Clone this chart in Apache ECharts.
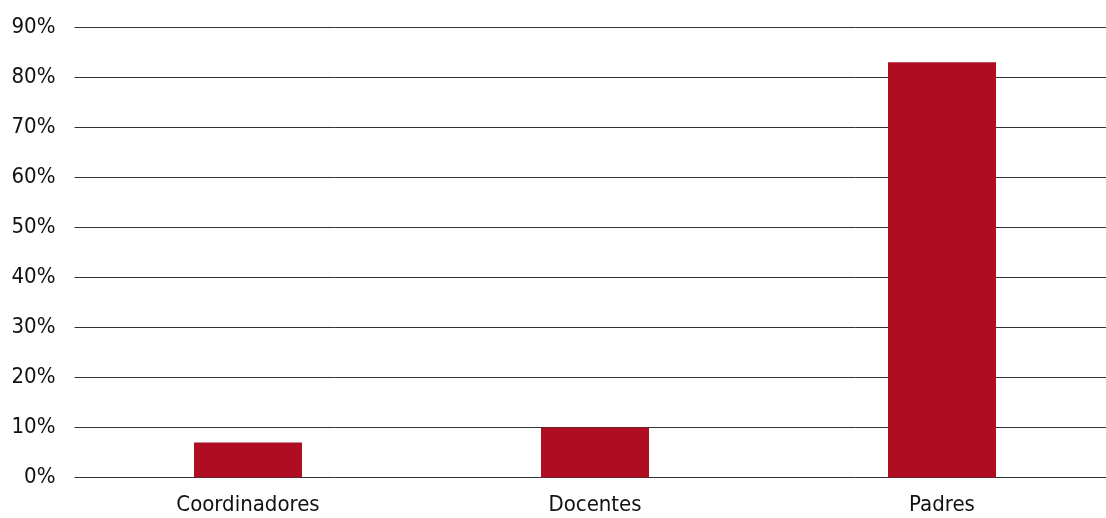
<!DOCTYPE html>
<html><head><meta charset="utf-8">
<script src="https://cdn.jsdelivr.net/npm/echarts@6/dist/echarts.min.js"></script>
<style>html,body{margin:0;padding:0;background:#fff;overflow:hidden;width:1106px;height:518px}#c{width:1116px;height:518px}</style>
</head><body><div id="c"></div>
<script>
const categories = ['Coordinadores', 'Docentes', 'Padres'];
const values = [7, 10, 83];
const yTicks = [0, 10, 20, 30, 40, 50, 60, 70, 80, 90];

const FONT = '"Liberation Sans Narrow", "DejaVu Sans Condensed", sans-serif';
const chart = echarts.init(document.getElementById('c'));
chart.setOption({
  animation: false,
  grid: { left: 74.5, right: 0.5, top: 27.3, bottom: 40.5, containLabel: false, outerBoundsMode: 'none' },
  xAxis: {
    type: 'category', data: categories,
    axisLine: { show: false }, axisTick: { show: false },
    axisLabel: { color: '#111', fontFamily: FONT, fontSize: 22, margin: 17 }
  },
  yAxis: {
    type: 'value', min: yTicks[0], max: yTicks[yTicks.length - 1], interval: 10,
    axisLine: { show: false }, axisTick: { show: false },
    axisLabel: { color: '#111', fontFamily: FONT, fontSize: 22, margin: 19, formatter: v => v + '%' },
    splitLine: { lineStyle: { color: '#333', width: 1 } }
  },
  series: [{
    type: 'bar', data: values, barWidth: 108,
    itemStyle: { color: '#AF0E22' }
  }]
});
</script></body></html>
